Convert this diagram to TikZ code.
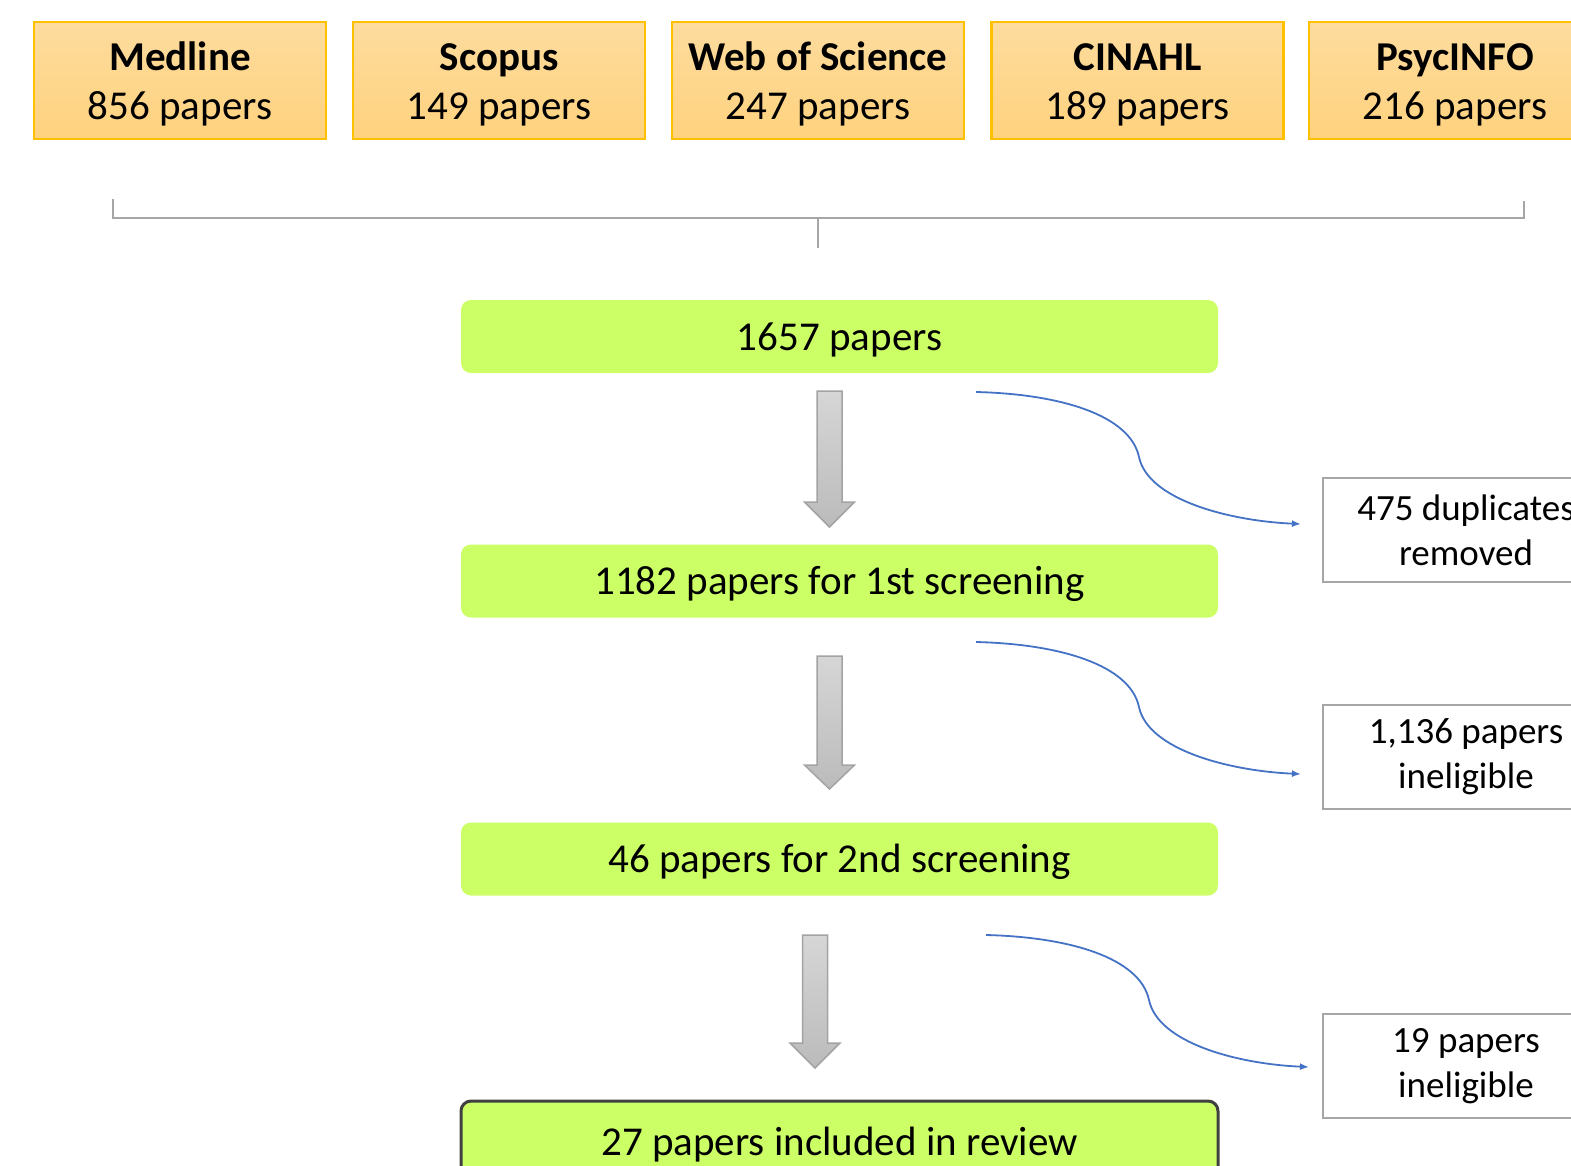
\documentclass[tikz,border=0pt]{standalone}
\usepackage{fontspec}
\setmainfont{Carlito}
\usetikzlibrary{arrows.meta}
\definecolor{srcborder}{HTML}{FFC000}
\definecolor{srctop}{HTML}{FDDC9E}
\definecolor{srcbot}{HTML}{FFD27E}
\definecolor{grn}{HTML}{CCFF66}
\definecolor{brk}{HTML}{A6A6A6}
\definecolor{arrline}{HTML}{A3A3A3}
\definecolor{arrtop}{HTML}{D6D6D6}
\definecolor{arrbot}{HTML}{BBBBBB}
\definecolor{blu}{HTML}{4472C4}
\definecolor{dkb}{HTML}{404040}
\newcommand\blkarrow[4]{%
  \draw[garrow] (#1-12.5,#2) -- (#1+12.5,#2) -- (#1+12.5,#3) -- (#1+25,#3) -- (#1,#4) -- (#1-25,#3) -- (#1-12.5,#3) -- cycle;}
\newcommand\twoln[2]{\raisebox{-5pt}[\height][\depth]{\begin{tabular}{@{}c@{}}#1\\#2\end{tabular}}}
\newcommand\lowr[1]{\raisebox{-3pt}[\height][\depth]{#1}}
\begin{document}
\begin{tikzpicture}[x=1pt,y=-1pt,
  src/.style={draw=srcborder, line width=2.2pt, top color=srctop, bottom color=srcbot,
    minimum width=292pt, minimum height=117pt, inner sep=0pt,
    font=\fontsize{41}{49}\selectfont},
  grnbox/.style={fill=grn, rounded corners=10pt, minimum width=757pt, minimum height=73pt,
    inner sep=0pt, font=\fontsize{41}{48}\selectfont},
  sidebox/.style={draw=brk, line width=2pt, fill=white, minimum width=287pt, minimum height=104pt,
    align=center, inner sep=0pt, font=\fontsize{37}{45}\selectfont},
  bracket/.style={draw=brk, line width=2.5pt},
  garrow/.style={draw=arrline, line width=1.5pt, top color=arrtop, bottom color=arrbot},
  bluec/.style={draw=blu, line width=1.8pt, -{Latex[length=9pt,width=7pt]}}]
\useasboundingbox (0,0) rectangle (1571,1165);
\clip (0,0) rectangle (1571,1165);
% source boxes
\node[src] (medline) at (180,80.5) {\twoln{\textbf{Medline}}{856 papers}};
\node[src] (scopus) at (499,80.5) {\twoln{\textbf{Scopus}}{149 papers}};
\node[src] (wos) at (818,80.5) {\twoln{\textbf{Web of Science}}{247 papers}};
\node[src] (cinahl) at (1137.5,80.5) {\twoln{\textbf{CINAHL}}{189 papers}};
\node[src] (psyc) at (1455,80.5) {\twoln{\textbf{PsycINFO}}{216 papers}};
% bracket
\coordinate (bl) at (113,199);
\coordinate (brc) at (1524,218);
\coordinate (br) at (1524,201);
\coordinate (bm) at (818,218);
\coordinate (bt) at (818,248);
\draw[bracket] (bl) |- (brc) -- (br);
\draw[bracket] (bm) -- (bt);
% main flow
\node[grnbox] (n1) at (839.5,336.5) {\lowr{1657 papers}};
\node[grnbox] (n2) at (839.5,581) {\lowr{1182 papers for 1st screening}};
\node[grnbox] (n3) at (839.5,859) {\lowr{46 papers for 2nd screening}};
\node[grnbox, draw=dkb, line width=3pt, minimum height=81pt] (n4) at (839.5,1141.5) {\lowr{27 papers included in review}};
\blkarrow{829.5}{391}{502}{527}
\blkarrow{829.5}{656}{765}{789}
\blkarrow{815}{935}{1043}{1068}
% side boxes
\node[sidebox] (r1) at (1466,530) {475 duplicates\\removed};
\node[sidebox] (r2) at (1466,756.5) {1,136 papers\\ineligible};
\node[sidebox] (r3) at (1466,1066) {19 papers\\ineligible};
% curved connectors
\coordinate (c1s) at (976,392);
\coordinate (c1e) at (1301,524);
\coordinate (c2s) at (976,642);
\coordinate (c2e) at (1301,774);
\coordinate (c3s) at (986,935);
\coordinate (c3e) at (1309,1067);
\draw[bluec] (c1s) .. controls +(84,2) and +(-9,-42) .. ++(163,65) .. controls +(9,43) and +(-71,-3) .. (c1e);
\draw[bluec] (c2s) .. controls +(84,2) and +(-9,-42) .. ++(163,65) .. controls +(9,43) and +(-71,-3) .. (c2e);
\draw[bluec] (c3s) .. controls +(84,2) and +(-9,-42) .. ++(163,65) .. controls +(9,43) and +(-71,-3) .. (c3e);
\end{tikzpicture}
\end{document}
